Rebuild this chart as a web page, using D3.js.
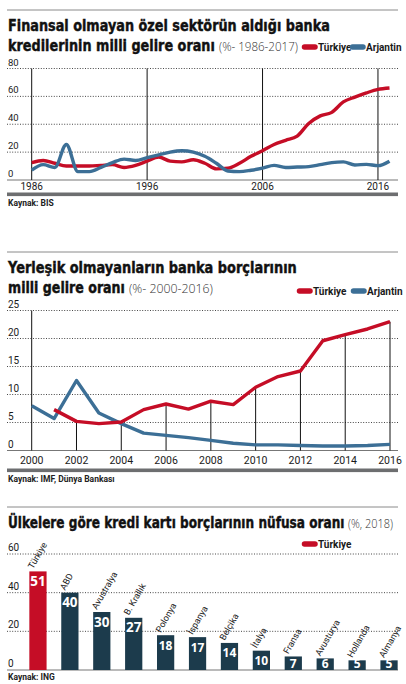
<!DOCTYPE html>
<html>
<head>
<meta charset="utf-8">
<script src="https://cdn.jsdelivr.net/npm/d3@7"></script>
<style>
  html, body { margin: 0; padding: 0; background: #fff; }
  svg { display: block; }
  .title { font-family: "DejaVu Sans", sans-serif; font-weight: bold; fill: #111;
           stroke: #111; stroke-width: 0.45; }
  .sub   { font-family: "Open Sans", sans-serif; font-weight: 300; fill: #333; }
  .tick  { font-family: "Liberation Sans Narrow", "Roboto", sans-serif; fill: #1a1a1a; }
  .leg   { font-family: "Liberation Sans Narrow", "Roboto", sans-serif; font-size: 10px;
           font-weight: bold; fill: #1a1a1a; }
  .src   { font-family: "Liberation Sans Narrow", "Roboto", sans-serif; font-size: 8.5px; font-weight: bold; fill: #222; }
</style>
</head>
<body>
<svg id="chart" width="406" height="684"></svg>
<script>
/* ── data ───────────────────────────────────────────────────── */
const years1 = [1986, 1987, 1988, 1989, 1990, 1991, 1992, 1993, 1994, 1995, 1996,
                1997, 1998, 1999, 2000, 2001, 2002, 2003, 2004, 2005, 2006, 2007,
                2008, 2009, 2010, 2011, 2012, 2013, 2014, 2015, 2016, 2017];
const turkey1 = [12.5, 14, 12, 10, 10, 10, 10.5, 11, 9, 10.5, 13.5, 16.5, 13.5, 13, 14.5, 12,
                 8, 8.5, 12, 17, 21, 25.5, 28.5, 31.5, 40.5, 46, 48.5, 56, 59.5, 62.5, 65, 66];
const argentina1 = [7, 11, 9, 25.5, 6, 6, 9, 12.5, 15, 14, 16, 18, 20, 21, 20, 17,
                    12, 6.5, 6, 7, 8.5, 10.5, 9, 9.3, 9.6, 11, 12.5, 13, 10.8, 11.2, 10.3, 13.5];
const yTicks1 = [0, 20, 40, 60, 80];
const xTicks1 = [1986, 1996, 2006, 2016];

const years2 = [2000, 2001, 2002, 2003, 2004, 2005, 2006, 2007, 2008,
                2009, 2010, 2011, 2012, 2013, 2014, 2015, 2016];
const turkey2 = [null, 7.3, 5.2, 4.8, 5.1, 7.3, 8.3, 7.4, 8.8,
                 8.2, 11.3, 13.2, 14.2, 19.6, 20.7, 21.7, 23.0];
const argentina2 = [8.0, 5.7, 12.5, 6.7, 4.8, 3.1, 2.7, 2.3, 1.8,
                    1.3, 1.0, 1.0, 0.9, 0.8, 0.8, 0.9, 1.1];
const yTicks2 = [0, 5, 10, 15, 20, 25];
const xTicks2 = [2000, 2002, 2004, 2006, 2008, 2010, 2012, 2014, 2016];

const countries3 = ['Türkiye', 'ABD', 'Avustralya', 'B. Krallık', 'Polonya', 'İspanya',
                    'Belçika', 'İtalya', 'Fransa', 'Avusturya', 'Hollanda', 'Almanya'];
const values3 = [51, 40, 30, 27, 18, 17, 14, 10, 7, 6, 5, 5];
const yTicks3 = [0, 20, 40, 60];

/* ── shared ─────────────────────────────────────────────────── */
const RED  = '#c50d26';
const BLUE = '#3c6f96';
const NAVY = '#1c3b4c';
const GREY = '#6d6e70';
const XL = 7, XR = 398;

const svg = d3.select('#chart');

// squeeze a text horizontally so it spans exactly w pixels
function fit(sel, x, y, w) {
  const n = sel.node().getComputedTextLength();
  sel.attr('transform', `translate(${x},${y}) scale(${w / n},1)`);
  return sel;
}

function header(y, lines) {
  svg.append('line').attr('x1', XL).attr('x2', XR).attr('y1', y).attr('y2', y)
    .attr('stroke', '#8a8a8a').attr('stroke-width', 1);
  lines.forEach(l => {
    const t = svg.append('text').attr('class', 'title')
      .attr('font-size', 15.5).text(l.bold);
    fit(t, XL + 1, l.y, l.boldW);
    if (l.light) {
      const s = svg.append('text').attr('class', 'sub')
        .attr('font-size', 13.5).text(l.light);
      fit(s, l.lightX, l.y, l.lightW);
    }
  });
}

function legend(items, y) {
  items.forEach(it => {
    svg.append('line')
      .attr('x1', it.x + 2.5).attr('x2', it.x + 13).attr('y1', y).attr('y2', y)
      .attr('stroke', it.color).attr('stroke-width', 5.5).attr('stroke-linecap', 'round');
    svg.append('text').attr('class', 'leg')
      .attr('x', it.x + 16).attr('y', y + 3.5).text(it.label);
  });
}

function grid(y, ticks, fs) {
  ticks.forEach(t => {
    if (t !== 0) {
      svg.append('line').attr('x1', XL).attr('x2', XR)
        .attr('y1', y(t)).attr('y2', y(t))
        .attr('stroke', '#333').attr('stroke-width', 0.9).attr('stroke-dasharray', '1,1.6');
    }
    svg.append('text').attr('class', 'tick')
      .attr('x', XL + 1).attr('y', y(t) - 3).attr('font-size', fs).text(t);
  });
  svg.append('line').attr('x1', XL).attr('x2', XR)
    .attr('y1', y(0)).attr('y2', y(0))
    .attr('stroke', '#777').attr('stroke-width', 1.2);
}

function footer(barY, srcY, src) {
  if (barY != null) {
    svg.append('rect').attr('x', XL).attr('y', barY)
      .attr('width', XR - XL).attr('height', 3.6).attr('fill', GREY);
  }
  svg.append('text').attr('class', 'src').attr('x', XL + 1).attr('y', srcY).text(src);
}

/* ── chart 1: kredi / milli gelir ───────────────────────────── */
(function chart1() {
  header(10, [
    { y: 31, bold: 'Finansal olmayan özel sektörün aldığı banka', boldW: 322 },
    { y: 51, bold: 'kredilerinin milli gelire oranı', boldW: 207,
      light: '(%- 1986-2017)', lightX: 219, lightW: 79 }
  ]);
  legend([{ x: 302, color: RED, label: 'Türkiye' },
          { x: 350, color: BLUE, label: 'Arjantin' }], 47);

  const x = d3.scaleLinear().domain([1986, 2017]).range([31.7, 389.5]);
  const y = d3.scaleLinear().domain([0, 80]).range([180, 68.5]);

  grid(y, yTicks1, 9.5);

  xTicks1.forEach(t => {
    svg.append('line').attr('x1', x(t)).attr('x2', x(t))
      .attr('y1', y(80)).attr('y2', y(0))
      .attr('stroke', '#111').attr('stroke-width', 1);
    svg.append('text').attr('class', 'tick')
      .attr('x', x(t)).attr('y', 190).attr('text-anchor', 'middle')
      .attr('font-size', 10).text(t);
  });

  const line = d3.line()
    .x((d, i) => x(years1[i])).y(d => y(d))
    .curve(d3.curveMonotoneX);

  svg.append('path').datum(turkey1).attr('d', line)
    .attr('fill', 'none').attr('stroke', RED).attr('stroke-width', 3.4)
    .attr('stroke-linejoin', 'round');
  svg.append('path').datum(argentina1).attr('d', line)
    .attr('fill', 'none').attr('stroke', BLUE).attr('stroke-width', 3.4)
    .attr('stroke-linejoin', 'round');

  footer(192.5, 206, 'Kaynak: BIS');
})();

/* ── chart 2: yerleşik olmayanlar ───────────────────────────── */
(function chart2() {
  header(252, [
    { y: 273, bold: 'Yerleşik olmayanların banka borçlarının', boldW: 289 },
    { y: 293, bold: 'milli gelire oranı', boldW: 117,
      light: '(%- 2000-2016)', lightX: 129, lightW: 84 }
  ]);
  legend([{ x: 297, color: RED, label: 'Türkiye' },
          { x: 351, color: BLUE, label: 'Arjantin' }], 291);

  const x = d3.scaleLinear().domain([2000, 2016]).range([31.7, 390]);
  const y = d3.scaleLinear().domain([0, 25]).range([450.5, 310.5]);

  grid(y, yTicks2, 10);

  xTicks2.forEach((t, i) => {
    const v = turkey2[years2.indexOf(t)];
    const top = i === 0 ? y(25) : y(v);
    svg.append('line').attr('x1', x(t)).attr('x2', x(t))
      .attr('y1', top).attr('y2', y(0))
      .attr('stroke', '#111').attr('stroke-width', 1);
    svg.append('text').attr('class', 'tick')
      .attr('x', x(t)).attr('y', 464).attr('text-anchor', 'middle')
      .attr('font-size', 10.5).text(t);
  });

  const line = d3.line()
    .defined(d => d != null)
    .x((d, i) => x(years2[i])).y(d => y(d));

  svg.append('path').datum(argentina2).attr('d', line)
    .attr('fill', 'none').attr('stroke', BLUE).attr('stroke-width', 3.4)
    .attr('stroke-linejoin', 'round');
  svg.append('path').datum(turkey2).attr('d', line)
    .attr('fill', 'none').attr('stroke', RED).attr('stroke-width', 3.4)
    .attr('stroke-linejoin', 'round');

  footer(468.5, 482, 'Kaynak: IMF, Dünya Bankası');
})();

/* ── chart 3: kredi kartı borçları ──────────────────────────── */
(function chart3() {
  header(507, [
    { y: 527.5, bold: 'Ülkelere göre kredi kartı borçlarının nüfusa oranı', boldW: 337,
      light: '(%, 2018)', lightX: 348, lightW: 45 }
  ]);
  legend([{ x: 302, color: RED, label: 'Türkiye' }], 544);

  const x = d3.scaleBand().domain(countries3).range([22, 405])
    .paddingInner(0.46).paddingOuter(0.23);
  const y = d3.scaleLinear().domain([0, 60]).range([670, 554]);

  grid(y, yTicks3, 10);

  const g = svg.append('g').selectAll('g').data(countries3).join('g');

  g.append('rect')
    .attr('x', d => x(d)).attr('width', x.bandwidth())
    .attr('y', (d, i) => y(values3[i]))
    .attr('height', (d, i) => y(0) - y(values3[i]))
    .attr('fill', (d, i) => i === 0 ? RED : NAVY);

  g.append('text')
    .attr('x', d => x(d) + x.bandwidth() / 2)
    .attr('y', (d, i) => Math.min(y(values3[i]) + 14.5, y(0) - 2.5))
    .attr('text-anchor', 'middle')
    .attr('font-family', '"Open Sans", sans-serif').attr('font-weight', 'bold')
    .attr('font-size', (d, i) => values3[i] >= 20 ? 13.5 : 12)
    .attr('fill', '#fff')
    .text((d, i) => values3[i]);

  g.append('text').attr('class', 'tick')
    .attr('font-size', 9)
    .attr('transform', (d, i) =>
      `translate(${x(d) + x.bandwidth() / 2 - 5},${y(values3[i]) - 2}) rotate(-60)`)
    .text(d => d);

  footer(null, 680, 'Kaynak: ING');
})();
</script>
</body>
</html>
